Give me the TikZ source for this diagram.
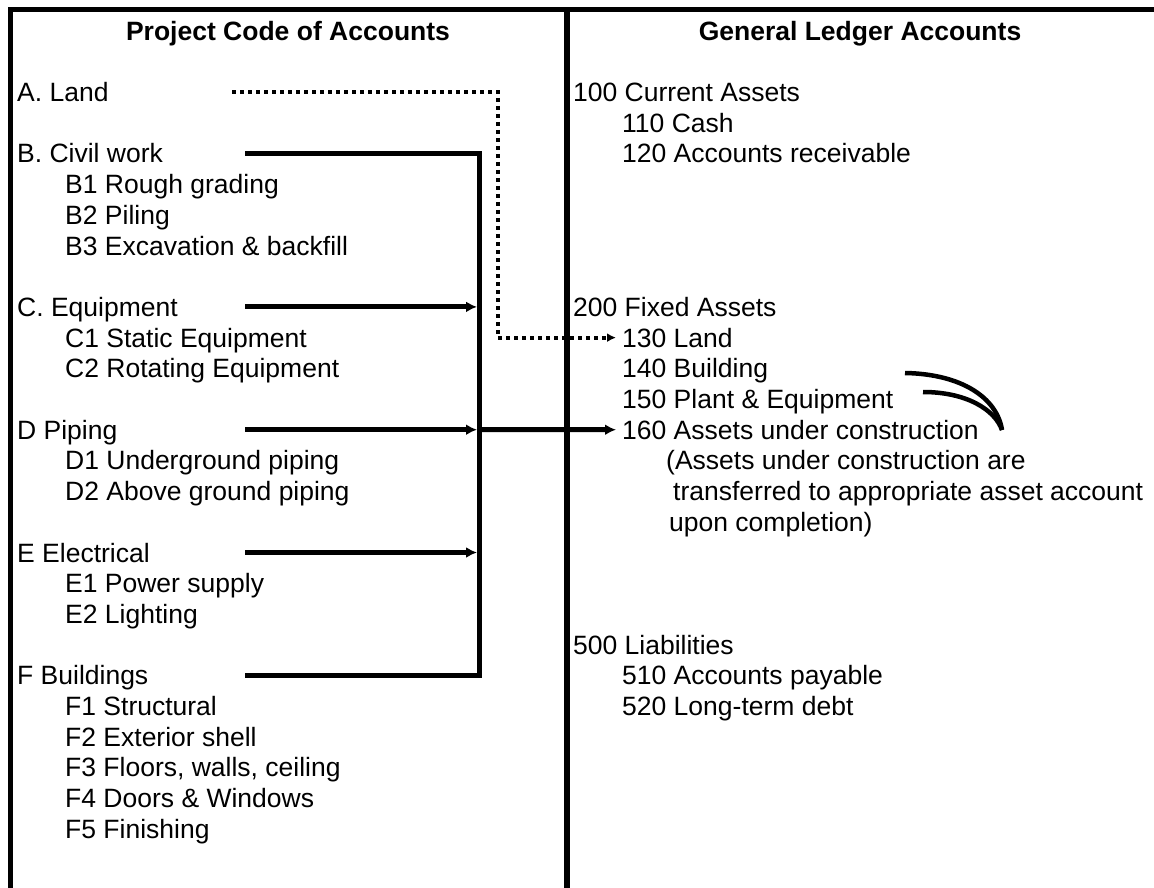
\documentclass[tikz,border=0pt]{standalone}
\usepackage{fontspec}
\setmainfont{Liberation Sans}
\usetikzlibrary{arrows.meta}

\begin{document}
\begin{tikzpicture}[x=1pt,y=-1pt,
acct/.style={anchor=base west,inner sep=0pt,font=\fontsize{26.5}{31}\selectfont},
head/.style={anchor=base,inner sep=0pt,font=\fontsize{26.5}{31}\selectfont\bfseries},
rule/.style={line width=5pt},
feed/.style={line width=5pt,-{Latex[length=11pt,width=11pt]},shorten >=2pt},
dotted link/.style={line width=4pt,dash pattern=on 4pt off 4pt,-{Latex[length=9pt,width=9pt]},shorten >=6pt},
transfer/.style={line width=4.5pt}]

\useasboundingbox (0,0) rectangle (1154,888);

% frame
\draw[rule] (10,888) -- (10,10) -- (1154,10);
\draw[line width=6pt] (567,10) -- (567,888);

% headings
\node[head] (pca) at (288,40.5) {Project Code of Accounts};
\node[head] (gla) at (860,40.5) {General Ledger Accounts};

% project code of accounts
\node[acct] (A) at (17,101.5) {A. Land};
\node[acct] (B) at (17,162.9) {B. Civil work};
\node[acct] (B1) at (65,193.6) {B1 Rough grading};
\node[acct] (B2) at (65,224.3) {B2 Piling};
\node[acct] (B3) at (65,255) {B3 Excavation \& backfill};
\node[acct] (C) at (17,316.4) {C. Equipment};
\node[acct] (C1) at (65,347.1) {C1 Static Equipment};
\node[acct] (C2) at (65,377.8) {C2 Rotating Equipment};
\node[acct] (D) at (17,439.2) {D Piping};
\node[acct] (D1) at (65,469.9) {D1 Underground piping};
\node[acct] (D2) at (65,500.6) {D2 Above ground piping};
\node[acct] (E) at (17,562) {E Electrical};
\node[acct] (E1) at (65,592.7) {E1 Power supply};
\node[acct] (E2) at (65,623.4) {E2 Lighting};
\node[acct] (F) at (17,684.8) {F Buildings};
\node[acct] (F1) at (65,715.5) {F1 Structural};
\node[acct] (F2) at (65,746.2) {F2 Exterior shell};
\node[acct] (F3) at (65,776.9) {F3 Floors, walls, ceiling};
\node[acct] (F4) at (65,807.6) {F4 Doors \& Windows};
\node[acct] (F5) at (65,838.3) {F5 Finishing};

% general ledger accounts
\node[acct] (G100) at (573,101.5) {100 Current Assets};
\node[acct] (G110) at (622,132.2) {110 Cash};
\node[acct] (G120) at (622,162.9) {120 Accounts receivable};
\node[acct] (G200) at (573,316.4) {200 Fixed Assets};
\node[acct] (G130) at (622,347.1) {130 Land};
\node[acct] (G140) at (622,377.8) {140 Building};
\node[acct] (G150) at (622,408.5) {150 Plant \& Equipment};
\node[acct] (G160) at (622,439.2) {160 Assets under construction};
\node[acct] (note1) at (666,469.9) {(Assets under construction are};
\node[acct] (note2) at (673,500.6) {transferred to appropriate asset account};
\node[acct] (note3) at (669,531.3) {upon completion)};
\node[acct] (G500) at (573,654.1) {500 Liabilities};
\node[acct] (G510) at (622,684.8) {510 Accounts payable};
\node[acct] (G520) at (622,715.5) {520 Long-term debt};

% connectors
\coordinate (As) at (232,92);
\coordinate (Abend) at (498,92);
\coordinate (Bs) at (245,153.4);
\coordinate (Bbus) at (479,153.4);
\coordinate (Cs) at (245,306.9);
\coordinate (Cbus) at (479,306.9);
\coordinate (Ds) at (245,429.7);
\coordinate (Dbus) at (479,429.7);
\coordinate (Es) at (245,552.5);
\coordinate (Ebus) at (479,552.5);
\coordinate (Fs) at (245,675.3);
\coordinate (Fbus) at (479,675.3);

\draw[dotted link] (As) -- (Abend) |- (G130.west);
\draw[rule] (Bs) -- (Bbus) -- (Fbus) -- (Fs);
\draw[feed] (Cs) -- (Cbus);
\draw[feed] (Ds) -- (Dbus);
\draw[feed] (Es) -- (Ebus);
\draw[feed,shorten >=6pt] (Dbus) -- (G160.west);

% transfer curves
\coordinate (c140) at (905,373);
\coordinate (c150) at (923,392);
\coordinate (c160) at (1002,430);
\draw[transfer] (c140) .. controls (962,374) and (997,398) .. (c160);
\draw[transfer] (c150) .. controls (967,392) and (995,410) .. (c160);
\end{tikzpicture}
\end{document}
